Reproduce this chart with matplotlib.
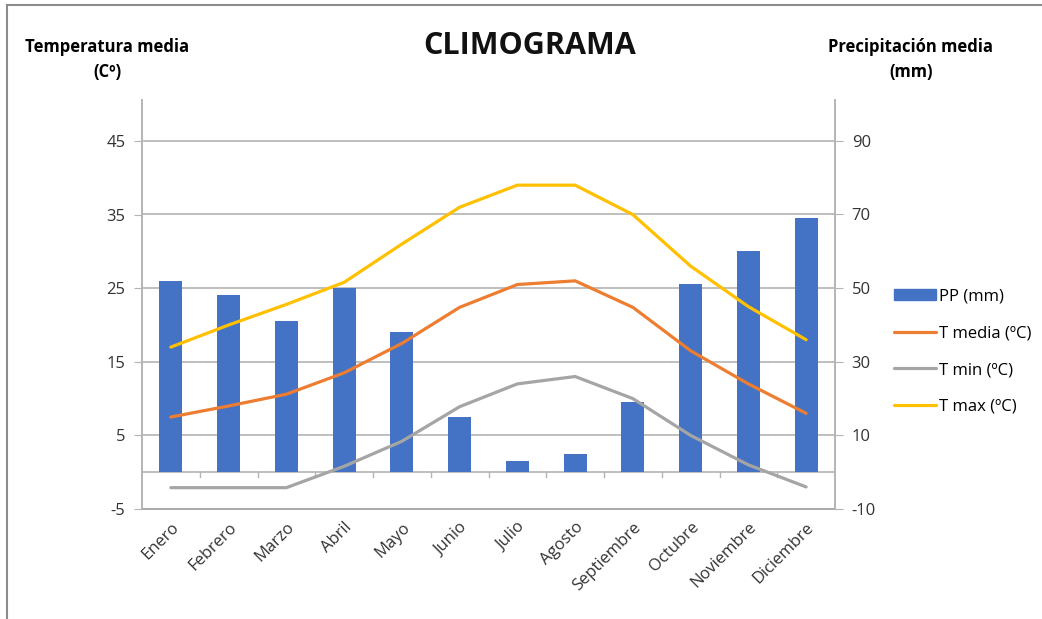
import numpy as np
import matplotlib.pyplot as plt
from matplotlib.lines import Line2D

meses = ['Enero', 'Febrero', 'Marzo', 'Abril', 'Mayo', 'Junio', 'Julio',
         'Agosto', 'Septiembre', 'Octubre', 'Noviembre', 'Diciembre']
pp = [52, 48, 41, 50, 38, 15, 3, 5, 19, 51, 60, 69]
t_media = [7.5, 9.0, 10.6, 13.5, 17.5, 22.4, 25.5, 26.0, 22.4, 16.5, 12.0, 8.0]
t_min = [-2.1, -2.1, -2.1, 0.8, 4.2, 8.9, 12.0, 13.0, 10.0, 5.0, 1.0, -2.0]
t_max = [17.0, 20.0, 22.8, 25.8, 31.0, 36.0, 39.0, 39.0, 35.0, 28.0, 22.5, 18.0]

temp_ticks = [-5, 5, 15, 25, 35, 45]
pp_ticks = [-10, 10, 30, 50, 70, 90]

BLUE = '#4472C4'
ORANGE = '#ED7D31'
GRAY = '#A5A5A5'
YELLOW = '#FFC000'
GRID = '#B4B4B4'

plt.rcParams['font.family'] = ['Open Sans', 'DejaVu Sans']
plt.rcParams['axes.unicode_minus'] = False

fig = plt.figure(figsize=(10.42, 6.19), dpi=100)
# axes extends a little below -5 so the bottom gridline is drawn inside it
ax = fig.add_axes([142 / 1042, 1 - 511 / 619, (835 - 142) / 1042, (511 - 100) / 619])
ax2 = ax.twinx()

x = np.arange(len(meses))

# bars on the secondary axis, behind the lines
ax2.bar(x, pp, width=0.4, color=BLUE, zorder=2, label='PP (mm)')
ax2.set_ylim(-10.54, 101.1)
ax2.set_yticks(pp_ticks)

ax.set_zorder(ax2.get_zorder() + 1)
ax.patch.set_visible(False)
l1, = ax.plot(x, t_media, color=ORANGE, lw=2.3, label='T media (ºC)', solid_capstyle='round')
l2, = ax.plot(x, t_min, color=GRAY, lw=2.3, label='T min (ºC)', solid_capstyle='round')
l3, = ax.plot(x, t_max, color=YELLOW, lw=2.3, label='T max (ºC)', solid_capstyle='round')
ax.set_ylim(-5.27, 50.57)
ax.set_yticks(temp_ticks)
ax.set_xlim(-0.5, len(meses) - 0.5)

# gridlines drawn on the bar axis so they stay behind the bars
for t in pp_ticks[1:]:
    ax2.axhline(t, color=GRID, lw=1.2, zorder=1)
ax2.axhline(0, color=GRID, lw=1.2, zorder=1)
ax.axhline(-5, color='#A8A8A8', lw=1.4, zorder=1)
for k in range(1, len(meses)):
    ax2.plot([k - 0.5, k - 0.5], [0, -1.4], color=GRID, lw=1, zorder=1, clip_on=False)

for a in (ax, ax2):
    for s in ('top', 'bottom'):
        a.spines[s].set_visible(False)
    for s in ('left', 'right'):
        a.spines[s].set_color(GRID)
        a.spines[s].set_linewidth(1.2)
        a.spines[s].set_bounds(-5 if a is ax else -10, a.get_ylim()[1])
    a.tick_params(axis='y', length=6, color=GRID, labelsize=12, pad=6, labelcolor='#333333')

ax.set_xticks(x)
ax.set_xticklabels(meses, rotation=45, ha='right', rotation_mode='anchor',
                   fontsize=12, color='#333333')
ax.tick_params(axis='x', length=0, pad=6)

fig.text(0.508, 0.925, 'CLIMOGRAMA', ha='center', va='center',
         fontsize=22, fontweight='bold', color='#111111')
fig.text(0.103, 0.924, 'Temperatura media', ha='center', va='center',
         fontsize=12, fontweight='bold')
fig.text(0.103, 0.884, '(Cº)', ha='center', va='center',
         fontsize=12, fontweight='bold')
fig.text(0.874, 0.924, 'Precipitación media', ha='center', va='center',
         fontsize=12, fontweight='bold')
fig.text(0.874, 0.884, '(mm)', ha='center', va='center',
         fontsize=12, fontweight='bold')

bar_handle = plt.Rectangle((0, 0), 1, 1, color=BLUE)
fig.legend([bar_handle, l1, l2, l3],
           ['PP (mm)', 'T media (ºC)', 'T min (ºC)', 'T max (ºC)'],
           loc='center left', bbox_to_anchor=(0.852, 0.432), frameon=False,
           fontsize=12, handlelength=2.5, handletextpad=0.2,
           labelspacing=1.25, handleheight=0.6, borderaxespad=0)

# partial frame of the original chart area
fig.add_artist(Line2D([7 / 1042, 7 / 1042], [0, 1 - 5 / 619], color='#8C8C8C', lw=1.5))
fig.add_artist(Line2D([7 / 1042, 1], [1 - 5 / 619, 1 - 5 / 619], color='#8C8C8C', lw=1.5))

fig.savefig('out.png', dpi=100)
